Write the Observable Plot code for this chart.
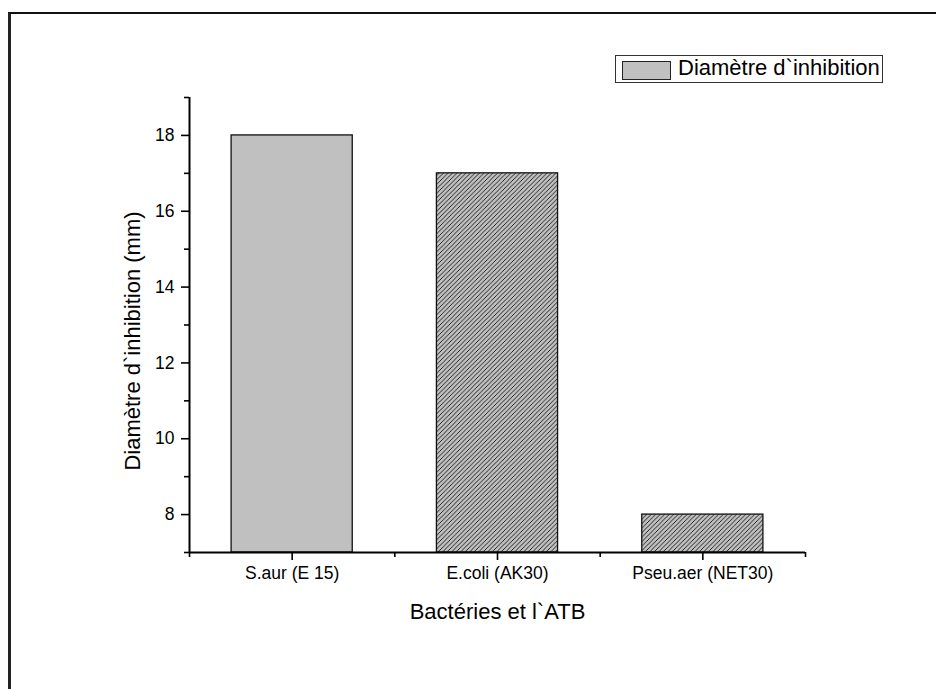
<!DOCTYPE html>
<html>
<head>
<meta charset="utf-8">
<script src="https://cdn.jsdelivr.net/npm/d3@7"></script>
<script src="https://cdn.jsdelivr.net/npm/@observablehq/plot@0.6"></script>
<style>
  html, body { margin: 0; padding: 0; background: #fff; }
  #wrap { position: relative; width: 936px; height: 689px; overflow: hidden; font-family: "Liberation Sans", Arial, sans-serif; }
  #frame { position: absolute; left: 8px; top: 12px; width: 940px; height: 700px; border-top: 2px solid #111; border-left: 3px solid #222; box-sizing: border-box; pointer-events: none; }
  #legend { position: absolute; left: 615px; top: 55px; width: 268px; height: 28px; border: 1px solid #333; box-sizing: border-box; background: #fff; }
  #legend .sw { position: absolute; left: 6px; top: 5px; width: 49px; height: 19px; background: #c0c0c0; border: 1px solid #222; box-sizing: border-box; }
  #legend .tx { position: absolute; left: 62px; top: -1px; font-size: 22px; line-height: 26px; color: #000; white-space: nowrap; }
</style>
</head>
<body>
<div id="wrap"></div>
<script>
const categories = ["S.aur (E 15)", "E.coli (AK30)", "Pseu.aer (NET30)"];
const values = [18, 17, 8];
const fills = ["solid", "hatch", "hatch"];
const yMajorTicks = [8, 10, 12, 14, 16, 18];
const yMinorTicks = [7, 9, 11, 13, 15, 17, 19];
const seriesName = "Diamètre d`inhibition";
const xTitle = "Bactéries et l`ATB";
const yTitle = "Diamètre d`inhibition (mm)";

const data = categories.map((c, i) => ({cat: c, i, value: values[i], fill: fills[i]}));

const defs = () => {
  const d = d3.create("svg:defs");
  const p = d.append("pattern").attr("id", "hatch").attr("patternUnits", "userSpaceOnUse")
    .attr("width", 4.5).attr("height", 4.5);
  p.append("rect").attr("width", 4.5).attr("height", 4.5).attr("fill", "#c0c0c0");
  p.append("path").attr("d", "M-1.125,1.125 L1.125,-1.125 M0,4.5 L4.5,0 M3.375,5.625 L5.625,3.375")
    .attr("stroke", "#111").attr("stroke-width", 0.9);
  return d.node();
};

const chart = Plot.plot({
  width: 936,
  height: 689,
  marginLeft: 189,
  marginRight: 131,
  marginTop: 97,
  marginBottom: 137,
  style: {fontFamily: "Liberation Sans, Arial, sans-serif", color: "#000", background: "transparent"},
  x: {type: "linear", domain: [0, 3]},
  y: {domain: [7, 19]},
  marks: [
    defs,
    Plot.rectY(data, {
      x1: d => d.i + 0.205, x2: d => d.i + 0.795, y1: 7, y2: "value",
      fill: d => d.fill === "hatch" ? "url(#hatch)" : "#c0c0c0",
      stroke: "#111", strokeWidth: 1.3
    }),
    Plot.axisY({ticks: yMajorTicks, tickSize: 8, tickPadding: 7, label: null, fontSize: 17.5, strokeWidth: 1.6}),
    Plot.axisY({ticks: yMinorTicks, tickSize: 5, tickFormat: () => "", label: null, strokeWidth: 1.6}),
    Plot.axisX({ticks: [0.5, 1.5, 2.5], tickFormat: v => categories[Math.floor(v)], tickSize: 8, tickPadding: 6, label: null, fontSize: 17.5, strokeWidth: 1.6}),
    Plot.axisX({ticks: [0, 1, 2, 3], tickFormat: () => "", tickSize: 5, label: null, strokeWidth: 1.6}),
    Plot.ruleX([0], {stroke: "#000", strokeWidth: 2}),
    Plot.ruleY([7], {stroke: "#000", strokeWidth: 2}),
    Plot.text([yTitle], {frameAnchor: "left", rotate: -90, dx: -57, dy: 16, textAnchor: "middle", lineAnchor: "middle", fontSize: 22, fill: "#000"}),
    Plot.text([xTitle], {frameAnchor: "bottom", dy: 59, textAnchor: "middle", lineAnchor: "middle", fontSize: 22, fill: "#000"})
  ]
});

const wrap = document.getElementById("wrap");
wrap.appendChild(chart);
const frame = document.createElement("div");
frame.id = "frame";
wrap.appendChild(frame);
const legend = document.createElement("div");
legend.id = "legend";
legend.innerHTML = '<div class="sw"></div><div class="tx"></div>';
legend.querySelector(".tx").textContent = seriesName;
wrap.appendChild(legend);
chart.style.position = "absolute";
chart.style.left = "0";
chart.style.top = "0";
</script>
</body>
</html>
